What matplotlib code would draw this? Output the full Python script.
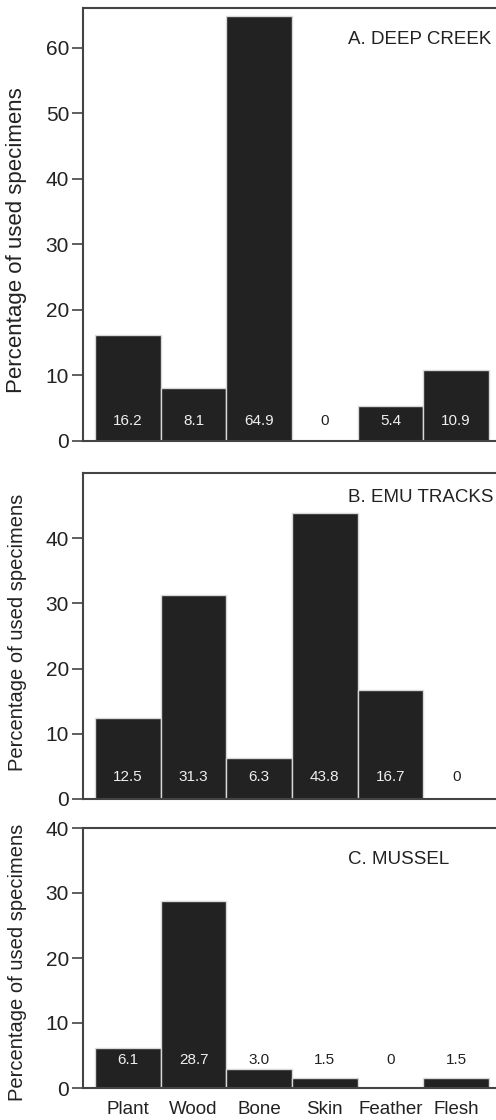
import matplotlib
matplotlib.use("Agg")
import matplotlib.pyplot as plt

plt.rcParams['font.family'] = ['Liberation Sans', 'DejaVu Sans']

categories = ["Plant", "Wood", "Bone", "Skin", "Feather", "Flesh"]
deep_creek = [16.2, 8.1, 64.9, 0.0, 5.4, 10.9]
emu_tracks = [12.5, 31.3, 6.3, 43.8, 16.7, 0.0]
mussel = [6.1, 28.7, 3.0, 1.5, 0.0, 1.5]
deep_creek_labels = ["16.2", "8.1", "64.9", "0", "5.4", "10.9"]
emu_tracks_labels = ["12.5", "31.3", "6.3", "43.8", "16.7", "0"]
mussel_labels = ["6.1", "28.7", "3.0", "1.5", "0", "1.5"]
titles = ["A. DEEP CREEK", "B. EMU TRACKS", "C. MUSSEL"]

W, H = 496, 1120
fig = plt.figure(figsize=(W / 100, H / 100), dpi=100)

def px_axes(left, top, right, bottom):
    return fig.add_axes([left / W, 1 - bottom / H, (right - left) / W, (bottom - top) / H])

ax_left_px = 83
ax_right_px = 511
bar_left_px = 95
unit_px = (489 - 95) / 6.0
xmin = -0.5 - (bar_left_px - ax_left_px) / unit_px
xmax = xmin + (ax_right_px - ax_left_px) / unit_px

panels = [
    dict(vals=deep_creek, labs=deep_creek_labels, top=8, bottom=441, ymax=66.1,
         ticks=[0, 10, 20, 30, 40, 50, 60], label_y=3.0, title_y=39,
         ylab_size=16, ylab_center=240),
    dict(vals=emu_tracks, labs=emu_tracks_labels, top=473, bottom=799, ymax=50,
         ticks=[0, 10, 20, 30, 40], label_y=3.3, title_y=497,
         ylab_size=14.5, ylab_center=632),
    dict(vals=mussel, labs=mussel_labels, top=828, bottom=1088, ymax=40,
         ticks=[0, 10, 20, 30, 40], label_y=4.3, title_y=860,
         ylab_size=14.5, ylab_center=962),
]

spine_color = "#444444"
bar_color = "#222222"
x = list(range(len(categories)))

for i, p in enumerate(panels):
    ax = px_axes(ax_left_px, p["top"], ax_right_px, p["bottom"])
    ax.bar(x, p["vals"], width=1.0, color=bar_color, edgecolor="#d8d8d8", linewidth=1.0)
    ax.set_xlim(xmin, xmax)
    ax.set_ylim(0, p["ymax"])
    ax.set_yticks(p["ticks"])
    ax.tick_params(axis='y', direction='out', length=8, width=1.2, color=spine_color,
                   labelsize=15, pad=2, labelcolor="#222222")
    for s in ["left", "top", "bottom"]:
        ax.spines[s].set_color(spine_color)
        ax.spines[s].set_linewidth(1.5)
    ax.spines["right"].set_visible(False)
    for xi, v, lab in zip(x, p["vals"], p["labs"]):
        inside = v > p["label_y"] + 1
        ax.text(xi, p["label_y"], lab, ha="center", va="center", fontsize=11,
                color="#f0f0f0" if inside else "#222222")
    fig.text(348 / W, 1 - p["title_y"] / H, titles[i], ha="left", va="center",
             fontsize=13.5, color="#222222")
    ax.set_ylabel("Percentage of used specimens", fontsize=p["ylab_size"], color="#222222")
    ax.yaxis.set_label_coords(-(ax_left_px - 27) / (ax_right_px - ax_left_px),
                              (p["bottom"] - p["ylab_center"]) / (p["bottom"] - p["top"]))
    if i == 2:
        ax.set_xticks(x)
        ax.set_xticklabels(categories)
        ax.tick_params(axis='x', length=0, labelsize=13.5, pad=9, labelcolor="#222222")
    else:
        ax.set_xticks([])

fig.savefig("out.png", dpi=100, facecolor="white")
